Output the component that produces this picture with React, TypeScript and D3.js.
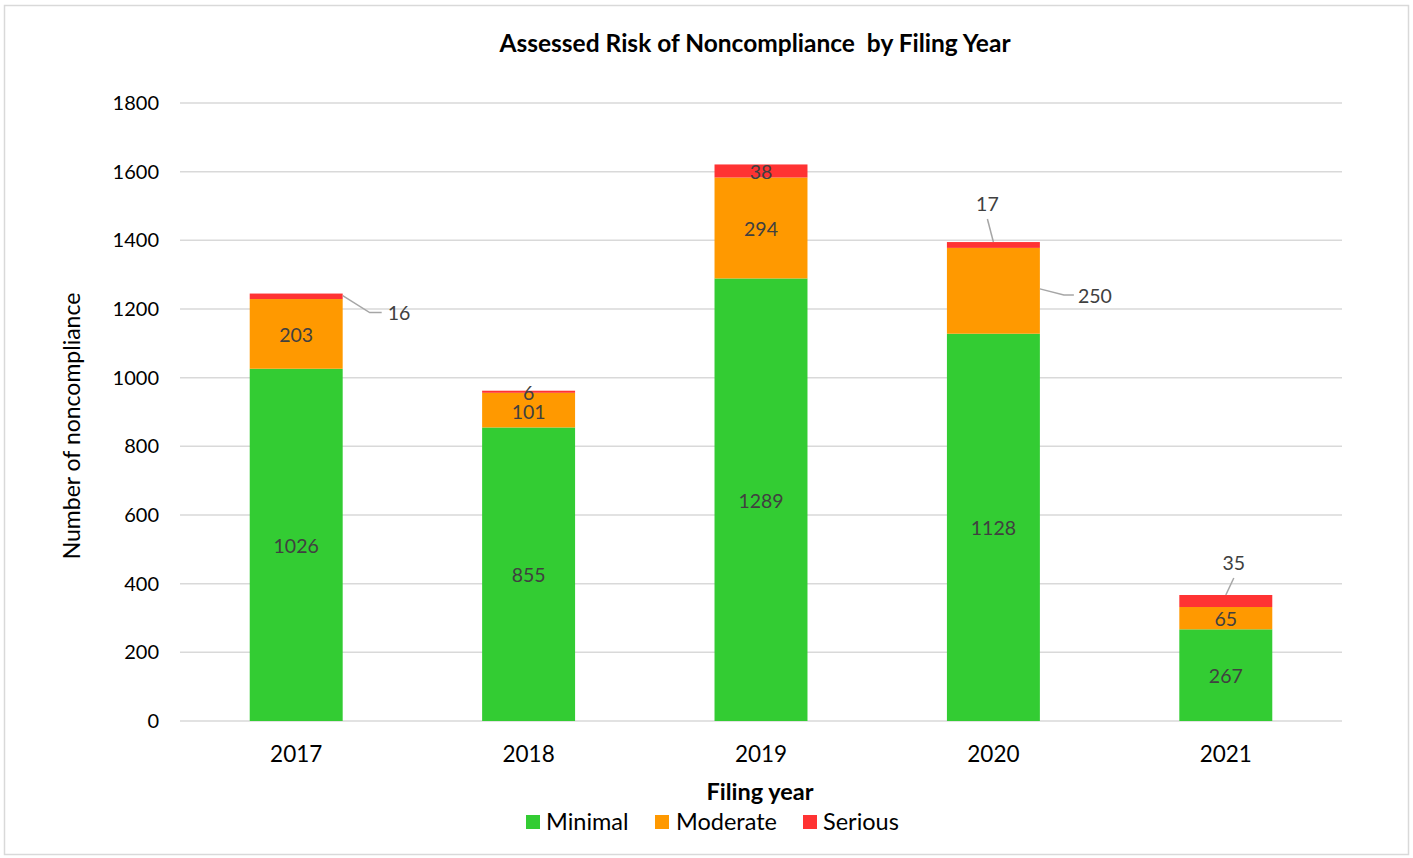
import React from "react";
import * as d3 from "d3";

const years = ["2017", "2018", "2019", "2020", "2021"];
const minimal = [1026, 855, 1289, 1128, 267];
const moderate = [203, 101, 294, 250, 65];
const serious = [16, 6, 38, 17, 35];
const yTicks = [0, 200, 400, 600, 800, 1000, 1200, 1400, 1600, 1800];
const seriesNames = ["Minimal", "Moderate", "Serious"];
const colors = ["#33CC33", "#FF9900", "#FF3333"];

const W = 1413, H = 858;
const FONT = "Lato, 'Open Sans', sans-serif";
const LBL = 19.5;

export default function App() {
  const x = d3.scaleBand().domain(years).range([180, 1342]).paddingInner(0.6).paddingOuter(0.3);
  const y = d3.scaleLinear().domain([0, 1800]).range([721, 103]);
  const data = years.map((yr, i) => ({ year: yr, Minimal: minimal[i], Moderate: moderate[i], Serious: serious[i] }));
  const stack = d3.stack<any>().keys(seriesNames)(data);
  const bw = x.bandwidth();

  const labels: any[] = [];
  stack.forEach((layer, si) => {
    layer.forEach((d, i) => {
      const yr = years[i];
      const cx = x(yr)! + bw / 2;
      const x1 = x(yr)! + bw;
      const v = d[1] - d[0];
      const yMid = (y(d[0]) + y(d[1])) / 2;
      const yTop = y(d[1]);
      const key = `${si}-${i}`;
      let el: any = null;
      if (si === 2 && i === 0) {
        el = (
          <g key={key}>
            <polyline points={`${x1},${yTop + 2} ${x1 + 27},${yTop + 19} ${x1 + 39},${yTop + 19}`} fill="none" stroke="#a6a6a6" strokeWidth={1.5} />
            <text x={x1 + 45} y={yTop + 20} dy="0.35em" fontSize={LBL} fill="#404040">{v}</text>
          </g>
        );
      } else if (si === 2 && i === 3) {
        el = (
          <g key={key}>
            <line x1={cx} y1={yTop} x2={cx - 6} y2={yTop - 23} stroke="#a6a6a6" strokeWidth={1.5} />
            <text x={cx - 6} y={yTop - 38} dy="0.35em" fontSize={LBL} textAnchor="middle" fill="#404040">{v}</text>
          </g>
        );
      } else if (si === 1 && i === 3) {
        el = (
          <g key={key}>
            <polyline points={`${x1},${yTop + 41} ${x1 + 24},${yTop + 47} ${x1 + 34},${yTop + 47}`} fill="none" stroke="#a6a6a6" strokeWidth={1.5} />
            <text x={x1 + 38} y={yTop + 48} dy="0.35em" fontSize={LBL} fill="#404040">{v}</text>
          </g>
        );
      } else if (si === 2 && i === 4) {
        el = (
          <g key={key}>
            <line x1={cx} y1={yTop} x2={cx + 8} y2={yTop - 17} stroke="#a6a6a6" strokeWidth={1.5} />
            <text x={cx + 8} y={yTop - 32} dy="0.35em" fontSize={LBL} textAnchor="middle" fill="#404040">{v}</text>
          </g>
        );
      } else {
        const ly = si === 2 && i === 1 ? yMid + 1 : si === 1 && i === 1 ? yMid + 2 : yMid + 1;
        el = (
          <text key={key} x={cx} y={ly} dy="0.35em" fontSize={LBL} textAnchor="middle" fill="#404040">{v}</text>
        );
      }
      labels.push(el);
    });
  });

  const legendItems = [
    { name: "Minimal", sx: 526, tx: 546 },
    { name: "Moderate", sx: 655, tx: 676 },
    { name: "Serious", sx: 803, tx: 823 },
  ];

  return (
    <svg width={W} height={H} style={{ position: "absolute", left: 0, top: 0, fontFamily: FONT }}>
      <rect x={0} y={0} width={W} height={H} fill="#ffffff" />
      <rect x={4.5} y={5.5} width={1404} height={849} fill="#ffffff" stroke="#d9d9d9" strokeWidth={1.5} />
      <text x={755} y={43} dy="0.35em" textAnchor="middle" fontSize={24.5} fontWeight="bold" fill="#000" style={{ whiteSpace: "pre" }}>
        {"Assessed Risk of Noncompliance  by Filing Year"}
      </text>
      {yTicks.map((t) => (
        <g key={t}>
          <line x1={180} x2={1342} y1={y(t)} y2={y(t)} stroke="#d9d9d9" strokeWidth={1.5} />
          <text x={159} y={y(t)} dy="0.35em" textAnchor="end" fontSize={20} fill="#000">{t}</text>
        </g>
      ))}
      {stack.map((layer, si) => (
        <g key={si} fill={colors[si]}>
          {layer.map((d, i) => (
            <rect key={i} x={x(years[i])!} y={y(d[1])} width={bw} height={y(d[0]) - y(d[1])} />
          ))}
        </g>
      ))}
      {labels}
      {years.map((yr) => (
        <text key={yr} x={x(yr)! + bw / 2} y={754} dy="0.35em" textAnchor="middle" fontSize={22.5} fill="#000">{yr}</text>
      ))}
      <text transform={`translate(72,426) rotate(-90)`} textAnchor="middle" dy="0.35em" fontSize={23} fill="#000">
        Number of noncompliance
      </text>
      <text x={760} y={792} dy="0.35em" textAnchor="middle" fontSize={23.5} fontWeight="bold" fill="#000">Filing year</text>
      {legendItems.map((it, i) => (
        <g key={it.name}>
          <rect x={it.sx} y={815} width={14} height={14} fill={colors[i]} />
          <text x={it.tx} y={822} dy="0.35em" fontSize={23.5} fill="#000">{it.name}</text>
        </g>
      ))}
    </svg>
  );
}
